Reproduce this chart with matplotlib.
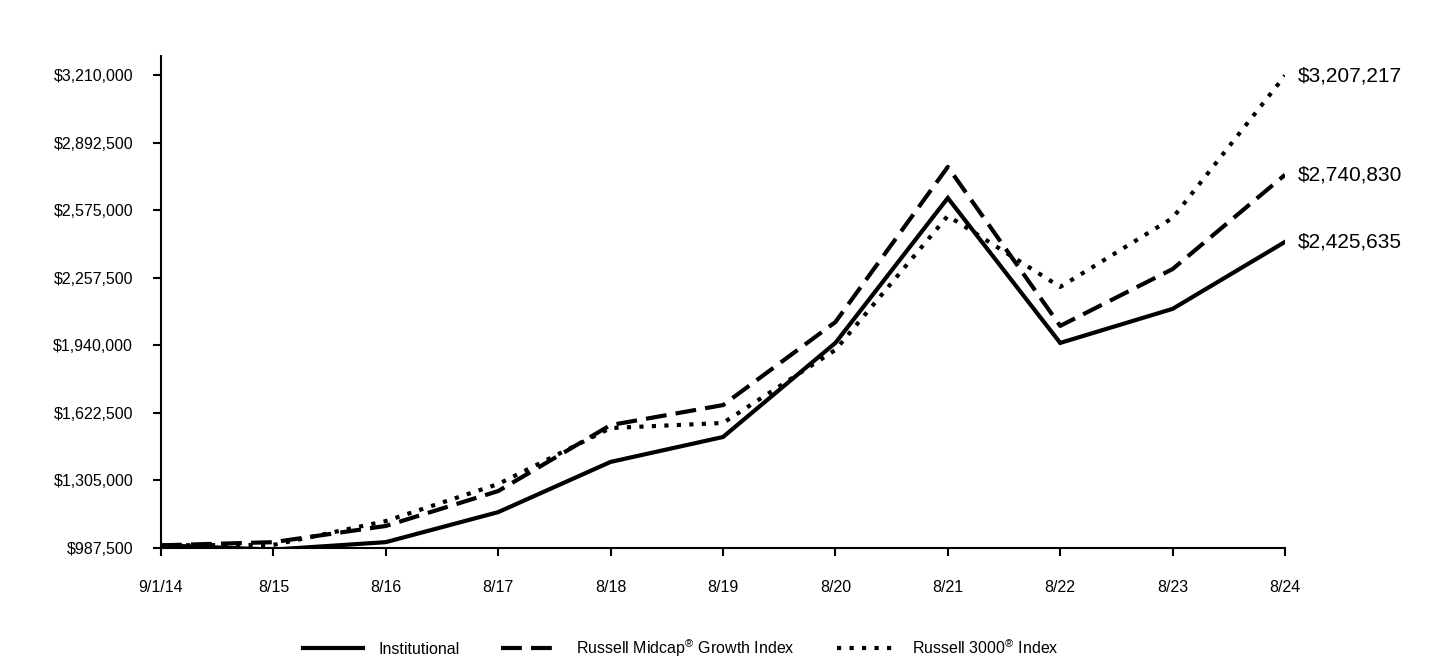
import matplotlib
matplotlib.use("Agg")
import matplotlib.pyplot as plt
from matplotlib.ticker import FuncFormatter

plt.rcParams['font.family'] = ['Liberation Sans', 'DejaVu Sans']
plt.rcParams['mathtext.fontset'] = 'custom'
plt.rcParams['mathtext.rm'] = 'Liberation Sans'
plt.rcParams['mathtext.it'] = 'Liberation Sans'

x_labels = ["9/1/14", "8/15", "8/16", "8/17", "8/18", "8/19", "8/20", "8/21", "8/22", "8/23", "8/24"]
institutional = [1000000, 980000, 1015000, 1156000, 1392000, 1509000, 1951000, 2632000, 1951000, 2111000, 2425635]
midcap_growth = [1000000, 1015000, 1091000, 1255000, 1565000, 1659000, 2049000, 2778000, 2031000, 2298000, 2740830]
russell_3000 = [1000000, 1002000, 1114000, 1288000, 1551000, 1575000, 1918000, 2548000, 2214000, 2538000, 3207217]
y_ticks = [987500, 1305000, 1622500, 1940000, 2257500, 2575000, 2892500, 3210000]

series_names = ["Institutional",
                "Russell Midcap$^{®}$ Growth Index",
                "Russell 3000$^{®}$ Index"]

fig = plt.figure(figsize=(14.4, 6.6), dpi=100)
ax = fig.add_axes([161/1440, 112/660, (1285-161)/1440, (548-56)/660])

xs = list(range(len(x_labels)))
lw = 3
l1, = ax.plot(xs, institutional, color='black', lw=lw, linestyle='-', solid_joinstyle='miter')
l2, = ax.plot(xs, midcap_growth, color='black', lw=lw, linestyle=(0, (5, 2.2)))
l3, = ax.plot(xs, russell_3000, color='black', lw=lw, linestyle=(0, (1, 2)))

for vals in (russell_3000, midcap_growth, institutional):
    ax.annotate(f"${vals[-1]:,}", xy=(xs[-1], vals[-1]), xytext=(9, 0),
                textcoords='offset points', va='center', ha='left', fontsize=15)

ax.set_xlim(0, len(x_labels) - 1)
ax.set_ylim(987500, 3299000)
ax.set_xticks(xs)
ax.set_xticklabels(x_labels)
ax.set_yticks(y_ticks)
ax.yaxis.set_major_formatter(FuncFormatter(lambda v, p: f"${int(v):,}"))

for s in ['top', 'right']:
    ax.spines[s].set_visible(False)
for s in ['left', 'bottom']:
    ax.spines[s].set_linewidth(1.5)
ax.tick_params(axis='y', direction='out', length=6, width=1.5, pad=14, labelsize=11.5)
ax.tick_params(axis='x', direction='out', length=6, width=1.5, pad=17, labelsize=11.5)

fig.legend([l1, l2, l3], series_names, loc='lower center', bbox_to_anchor=(681/1440, -0.02),
           ncol=3, frameon=False, fontsize=11.5, handlelength=3.7, handletextpad=1.0,
           columnspacing=2.6)

fig.savefig("out.png", dpi=100)
